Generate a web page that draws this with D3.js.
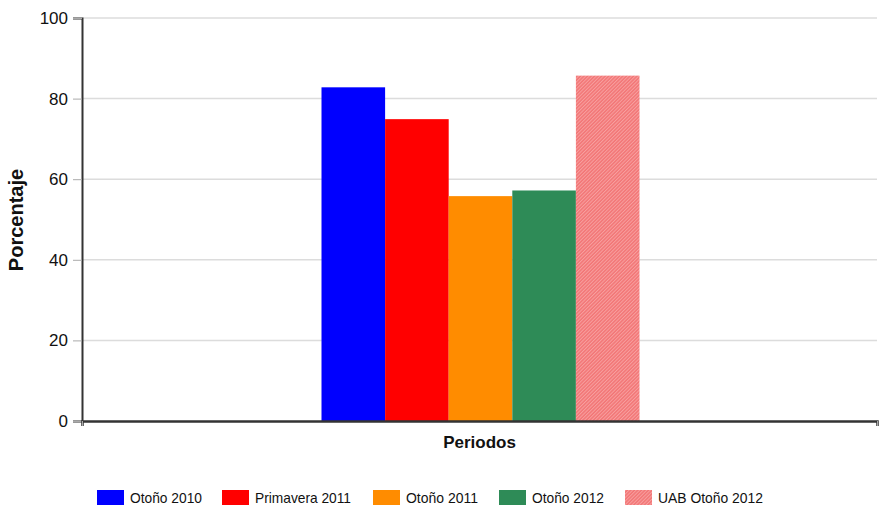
<!DOCTYPE html>
<html><head><meta charset="utf-8">
<script src="https://cdn.jsdelivr.net/npm/d3@7"></script>
<style>body{margin:0;background:#fff}svg{display:block}text{font-family:"Liberation Sans",Arial,sans-serif}</style>
</head><body>
<svg id="c" width="879" height="507"></svg>
<script>
const categories = ["Periodos"];
const seriesNames = ["Otoño 2010","Primavera 2011","Otoño 2011","Otoño 2012","UAB Otoño 2012"];
const seriesValues = [82.8, 74.9, 55.8, 57.2, 85.7];
const seriesColors = ["#0000ff","#ff0000","#ff8c00","#2e8b57","#f08080"];
const yTicks = [0,20,40,60,80,100];

const svg = d3.select("#c");
const defs = svg.append("defs");
const pat = defs.append("pattern").attr("id","hatch").attr("patternUnits","userSpaceOnUse")
  .attr("width",2.5).attr("height",2.5).attr("patternTransform","rotate(45)");
pat.append("rect").attr("width",2.5).attr("height",2.5).attr("fill","#f27676");
pat.append("rect").attr("width",1).attr("height",2.5).attr("fill","#f8a0a0");

const L=82, R=877, T=18, B=421;
const y = d3.scaleLinear().domain([0,100]).range([B,T]);
const x0 = d3.scaleBand().domain(categories).range([L,R]).paddingInner(0).paddingOuter(0.75);
const x1 = d3.scaleBand().domain(seriesNames).range([0,x0.bandwidth()]);

// gridlines
svg.append("g").selectAll("line").data(yTicks.filter(d=>d>0)).join("line")
  .attr("x1",L).attr("x2",R).attr("y1",d=>y(d)).attr("y2",d=>y(d))
  .attr("stroke","#dcdcdc").attr("stroke-width",1.5);

// bars
svg.append("g").selectAll("rect").data(seriesNames).join("rect")
  .attr("x",(d,i)=>x0(categories[0])+x1(d)+1)
  .attr("width",x1.bandwidth())
  .attr("y",(d,i)=>y(seriesValues[i]))
  .attr("height",(d,i)=>B-y(seriesValues[i]))
  .attr("fill",(d,i)=>i===4?"url(#hatch)":seriesColors[i]);

// y axis
const ya = svg.append("g").attr("transform",`translate(${L},0)`)
  .call(d3.axisLeft(y).tickValues(yTicks).tickSize(9).tickPadding(5));
ya.select(".domain").attr("stroke","#333").attr("stroke-width",2);
ya.selectAll(".tick line").attr("stroke","#aaa");
ya.selectAll(".tick text").attr("font-size",17).attr("fill","#111").attr("font-family","Liberation Sans, Arial, sans-serif");

// x axis
const xa = svg.append("g").attr("transform",`translate(0,${B})`)
  .call(d3.axisBottom(d3.scaleLinear().domain([0,1]).range([L,R])).tickValues([0,1]).tickSize(5).tickFormat(""));
xa.select(".domain").attr("stroke","#333").attr("stroke-width",2.5);
xa.selectAll(".tick line").attr("stroke","#aaa");

// titles
svg.append("text").attr("x",(L+R)/2).attr("y",448).attr("text-anchor","middle")
  .attr("font-size",17).attr("font-weight","bold").attr("fill","#111").text(categories[0]);
svg.append("text").attr("transform","translate(23,220) rotate(-90)").attr("text-anchor","middle")
  .attr("font-size",20).attr("font-weight","bold").attr("fill","#111").text("Porcentaje");

// legend
const legX = [97,222,373,499,625];
const lg = svg.append("g").selectAll("g").data(seriesNames).join("g")
  .attr("transform",(d,i)=>`translate(${legX[i]},490)`);
lg.append("rect").attr("width",27).attr("height",15)
  .attr("fill",(d,i)=>i===4?"url(#hatch)":seriesColors[i]);
lg.append("text").attr("x",33).attr("y",12.5).attr("font-size",14.5).attr("fill","#111")
  .attr("textLength",(d,i)=>[72,96,72,72,105][i]).attr("lengthAdjust","spacingAndGlyphs").text(d=>d);
</script>
</body></html>
